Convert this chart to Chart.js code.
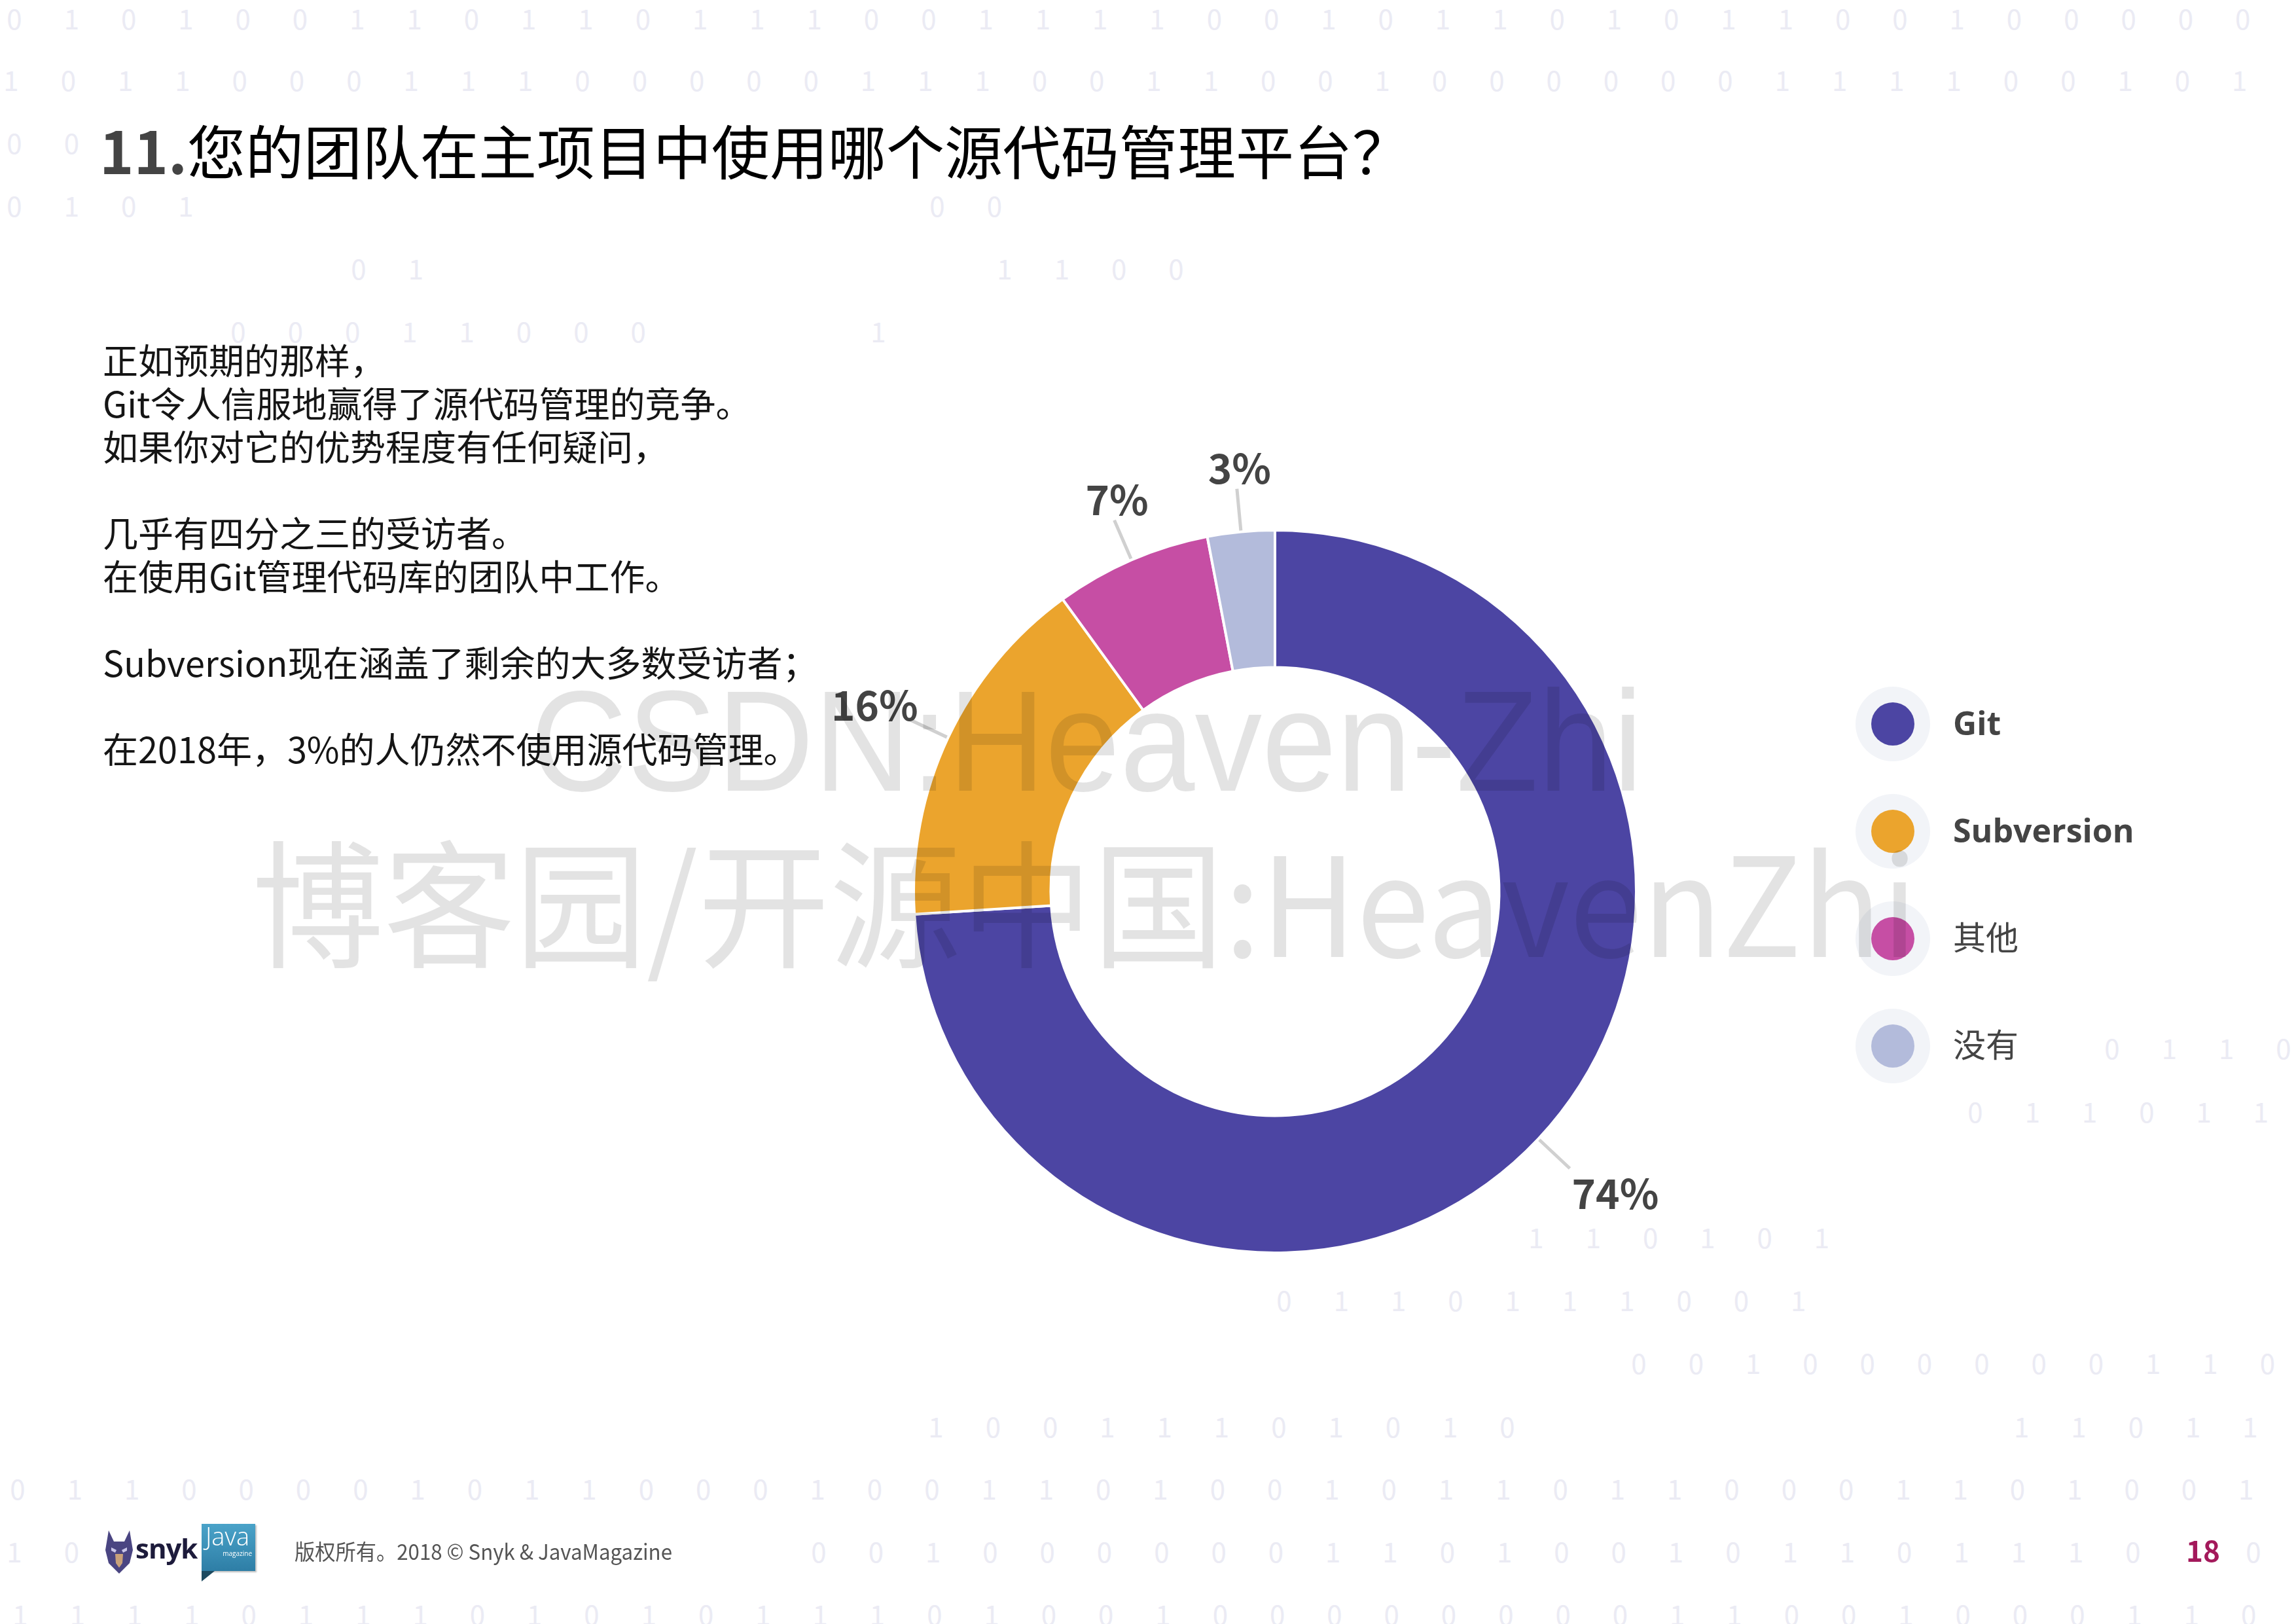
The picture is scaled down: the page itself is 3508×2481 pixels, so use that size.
<!DOCTYPE html>
<html>
<head>
<meta charset="utf-8">
<script src="https://cdn.jsdelivr.net/npm/chart.js@4.4.0/dist/chart.umd.min.js"></script>
<style>
html,body{margin:0;padding:0;background:#fff;}
#page{position:relative;width:3508px;height:2481px;overflow:hidden;background:#fff;font-family:"Noto Sans CJK SC","Noto Sans",sans-serif;}
#bg{position:absolute;left:0;top:0;width:3508px;height:2481px;z-index:0;}
.dg{position:absolute;font-family:"Noto Sans CJK SC","Roboto",sans-serif;font-size:42px;line-height:42px;color:#ebebf4;transform:translate(-50%,-50%);}
#chart{position:absolute;left:0;top:0;z-index:1;}
#title{position:absolute;left:152px;top:183px;font-size:89px;line-height:89px;white-space:nowrap;z-index:2;color:#000;}
#title .num{font-weight:700;color:#444;}
#body{position:absolute;left:157px;top:516px;font-size:54px;line-height:66px;color:#151515;white-space:nowrap;z-index:2;}
#footer{position:absolute;left:450px;top:2353px;font-size:33px;line-height:33px;color:#555;white-space:nowrap;z-index:2;transform-origin:0 0;}
#pageno{position:absolute;left:3340px;top:2345px;font-size:44px;line-height:44px;font-weight:700;color:#a3195b;z-index:2;}
#snyk{position:absolute;left:161px;top:2338px;z-index:2;}
#snyktxt{position:absolute;left:207px;top:2340px;font-family:"Open Sans",sans-serif;font-weight:700;font-size:42px;line-height:50px;color:#1d1b3b;z-index:2;letter-spacing:-1px;}
#java{position:absolute;left:308px;top:2328px;width:82px;height:72px;background:linear-gradient(#4aa3c9,#2e7ea6);z-index:2;box-shadow:2px 2px 2px rgba(0,0,0,0.25);}
#java .j{position:absolute;left:6px;top:-4px;font-family:"Open Sans",sans-serif;font-weight:300;font-size:38px;line-height:44px;color:#fff;}
#java .m{position:absolute;right:5px;top:38px;font-family:"Open Sans",sans-serif;font-size:10px;color:#fff;}
#javatail{position:absolute;left:308px;top:2400px;width:0;height:0;border-top:16px solid #1c4a60;border-right:20px solid transparent;z-index:2;}
.wm{position:absolute;white-space:nowrap;color:rgba(0,0,0,0.11);z-index:5;transform-origin:0 0;pointer-events:none;}
#wm1{left:810px;top:1023px;font-family:"Liberation Sans","Arial",sans-serif;font-size:219px;line-height:219px;}
#wm2{left:385px;top:1265px;font-family:"Noto Sans CJK SC",sans-serif;font-size:210px;line-height:210px;}
</style>
</head>
<body>
<div id="page">
  <div id="bg"></div>
  <canvas id="chart" width="3508" height="2481"></canvas>
  <div id="title"><span class="num">11.</span>您的团队在主项目中使用哪个源代码管理平台？</div>
  <div id="body">正如预期的那样，<br>Git令人信服地赢得了源代码管理的竞争。<br>如果你对它的优势程度有任何疑问，<br><br>几乎有四分之三的受访者。<br>在使用Git管理代码库的团队中工作。<br><br>Subversion现在涵盖了剩余的大多数受访者；<br><br>在2018年，3%的人仍然不使用源代码管理。</div>
  <svg id="snyk" width="42" height="66" viewBox="0 0 42 66">
    <path d="M5 0 L13 17 L29 17 L37 0 L42 30 L37 50 L21 66 L5 50 L0 30 Z" fill="#4a4582"/>
    <path d="M9 26 L17 30 L15 34 L9 31Z M33 26 L25 30 L27 34 L33 31Z" fill="#c9c6e8"/>
    <path d="M15 36 L27 36 L26 50 L21 57 L16 50Z" fill="#c8a17a"/>
  </svg>
  <div id="snyktxt">snyk</div>
  <div id="java"><div class="j">Java</div><div class="m">magazine</div></div>
  <div id="javatail"></div>
  <div id="footer">版权所有。2018 © Snyk &amp; JavaMagazine</div>
  <div id="pageno">18</div>
  <div id="wm1" class="wm">CSDN:Heaven-Zhi</div>
  <div id="wm2" class="wm">博客园/开源中国:HeavenZhi</div>
</div>
<script>
// ---- chart data ----
const categories = ['Git', 'Subversion', '其他', '没有'];
const shares = [74, 16, 7, 3];
const sliceColors = ['#4c45a3', '#eba42d', '#c64ea4', '#b3bbdb'];
const valueLabels = ['74%', '16%', '7%', '3%'];

// ---- decorative binary background rows ----
const bgRows = [
  {y: 27,   x: 22,   d: '0101001101101110011110010110101100100000'},
  {y: 121,  x: 17,   d: '1011000111000001110011001000000111100101'},
  {y: 217,  x: 22,   d: '00'},
  {y: 313,  x: 22,   d: '0101'},
  {y: 313,  x: 1432, d: '00'},
  {y: 409,  x: 548,  d: '01'},
  {y: 409,  x: 1535, d: '1100'},
  {y: 505,  x: 364,  d: '00011000'},
  {y: 505,  x: 1342, d: '1'},
  {y: 1600, x: 3227, d: '0110'},
  {y: 1697, x: 3018, d: '011011'},
  {y: 1889, x: 2347, d: '110101'},
  {y: 1985, x: 1962, d: '0110111001'},
  {y: 2081, x: 2504, d: '001000000110'},
  {y: 2178, x: 1430, d: '10011101010        11011'},
  {y: 2273, x: 27,   d: '0110000101100010011010010110110001101001'},
  {y: 2369, x: 22,   d: '10'},
  {y: 2369, x: 1251, d: '001000000110100101101110'},
  {y: 2369, x: 3443, d: '0'},
  {y: 2465, x: 31,   d: '1111011101010111010010000000011001000110'}
];
const bgStep = 87.3;

const bg = document.getElementById('bg');
bgRows.forEach(r => {
  for (let i = 0; i < r.d.length; i++) {
    const c = r.d[i];
    if (c === ' ') continue;
    const s = document.createElement('span');
    s.className = 'dg';
    s.textContent = c;
    s.style.left = (r.x + i * bgStep) + 'px';
    s.style.top = r.y + 'px';
    bg.appendChild(s);
  }
});

// ---- outside labels with leader lines ----
const outLabels = {
  id: 'outLabels',
  afterDatasetsDraw(chart) {
    const ctx = chart.ctx;
    const meta = chart.getDatasetMeta(0);
    meta.data.forEach((arc, i) => {
      const p = arc.getProps(['x', 'y', 'startAngle', 'endAngle', 'outerRadius'], true);
      const mid = (p.startAngle + p.endAngle) / 2;
      const dx = Math.cos(mid), dy = Math.sin(mid);
      const r0 = p.outerRadius + 2, r1 = p.outerRadius + 66;
      const ex = p.x + dx * r1, ey = p.y + dy * r1;
      ctx.save();
      ctx.strokeStyle = '#d0d0d0';
      ctx.lineWidth = 5;
      ctx.beginPath();
      ctx.moveTo(p.x + dx * r0, p.y + dy * r0);
      ctx.lineTo(ex, ey);
      ctx.stroke();
      ctx.fillStyle = '#444';
      ctx.font = '700 62px "Noto Sans CJK SC"';
      ctx.textBaseline = 'alphabetic';
      const t = valueLabels[i];
      if (dx > 0.5) { ctx.textAlign = 'left'; ctx.fillText(t, ex + 3, ey + 62); }
      else if (dx < -0.5) { ctx.textAlign = 'right'; ctx.fillText(t, ex + 14, ey + 2); }
      else { ctx.textAlign = 'center'; ctx.fillText(t, ex + 4, ey - 8); }
      ctx.restore();
    });
  }
};

// ---- side legend ----
const sideLegend = {
  id: 'sideLegend',
  afterDraw(chart) {
    const ctx = chart.ctx;
    const meta = chart.getDatasetMeta(0);
    const cx0 = meta.data[0].x + 944, cy0 = meta.data[0].y - 256;
    const ds = chart.data.datasets[0];
    chart.data.labels.forEach((lab, i) => {
      const cy = cy0 + i * 164;
      ctx.save();
      ctx.fillStyle = '#f2f4f8';
      ctx.beginPath(); ctx.arc(cx0, cy, 57, 0, Math.PI * 2); ctx.fill();
      ctx.fillStyle = ds.backgroundColor[i];
      ctx.beginPath(); ctx.arc(cx0, cy, 33, 0, Math.PI * 2); ctx.fill();
      ctx.fillStyle = '#444';
      ctx.textAlign = 'left';
      ctx.textBaseline = 'alphabetic';
      const cjk = /[\u4e00-\u9fff]/.test(lab);
      ctx.font = cjk ? '400 50px "Noto Sans CJK SC"' : '700 50px "Open Sans"';
      ctx.fillText(lab, cx0 + 92, cy + 17);
      ctx.restore();
    });
  }
};

function draw() {
  new Chart(document.getElementById('chart'), {
    type: 'doughnut',
    data: {
      labels: categories,
      datasets: [{
        data: shares,
        backgroundColor: sliceColors,
        borderColor: '#ffffff',
        borderWidth: 4,
        hoverOffset: 0
      }]
    },
    options: {
      responsive: false,
      devicePixelRatio: 1,
      animation: false,
      radius: 552,
      cutout: 340,
      rotation: 0,
      layout: {padding: {left: 1398, right: 1010, top: 812, bottom: 569}},
      plugins: {legend: {display: false}, tooltip: {enabled: false}}
    },
    plugins: [outLabels, sideLegend]
  });

  const fit = (id, w) => {
    const el = document.getElementById(id);
    const cw = el.getBoundingClientRect().width;
    el.style.transform = 'scaleX(' + (w / cw) + ')';
  };
  fit('wm1', 1700);
  fit('wm2', 2545);
  fit('footer', 577);
}
if (document.fonts && document.fonts.ready) { document.fonts.ready.then(draw); } else { draw(); }
</script>
</body>
</html>
